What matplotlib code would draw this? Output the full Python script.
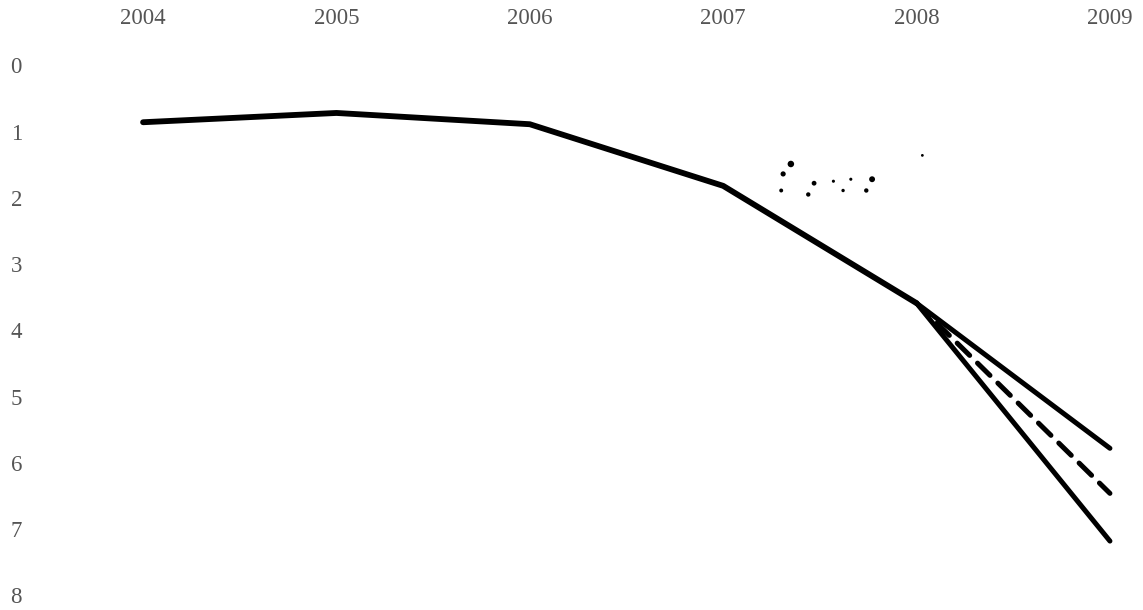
# Chart recreation: declining index 2004-2008 with three 2009 scenarios
# (y axis runs downward, years along the top).

import matplotlib
matplotlib.use("Agg")
import matplotlib.pyplot as plt

# Data
years = [2004, 2005, 2006, 2007, 2008]
values = [0.86, 0.72, 0.89, 1.82, 3.59]

scenario_years = [2008, 2009]
upper = [3.59, 5.78]
middle = [3.59, 6.46]   # dashed
lower = [3.59, 7.18]

# scan specks above the line
speck_x = [2007.35, 2007.31, 2007.30, 2007.47, 2007.44, 2007.57, 2007.62,
           2007.66, 2007.74, 2007.77, 2008.03]
speck_y = [1.49, 1.64, 1.89, 1.78, 1.95, 1.75, 1.89, 1.72, 1.89, 1.72, 1.36]
speck_s = [22, 14, 8, 12, 10, 5, 6, 5, 10, 18, 4]

year_ticks = [2004, 2005, 2006, 2007, 2008, 2009]
value_ticks = list(range(0, 9))

fig = plt.figure(figsize=(11.43, 6.10), dpi=100)
ax = fig.add_axes([0.035, 0.0, 0.965, 0.934])

ax.plot(years, values, color="black", linewidth=4.2, solid_capstyle="round",
        solid_joinstyle="round")
ax.plot(scenario_years, upper, color="black", linewidth=3.6, solid_capstyle="round")
ax.plot(scenario_years, lower, color="black", linewidth=3.6, solid_capstyle="round")
ax.plot(scenario_years, middle, color="black", linewidth=3.6,
        linestyle=(0, (3.5, 2.2)), dash_capstyle="round")
ax.scatter(speck_x, speck_y, s=speck_s, color="black", linewidths=0)

ax.set_xlim(2003.467, 2009.171)
ax.set_ylim(8.22, -0.377)

ax.xaxis.tick_top()
ax.set_xticks(year_ticks)
ax.set_xticklabels([str(y) for y in year_ticks])
ax.set_yticks(value_ticks)
ax.set_yticklabels([str(v) for v in value_ticks])

for lab in ax.get_xticklabels() + ax.get_yticklabels():
    lab.set_family("Liberation Serif")
    lab.set_fontsize(16.5)
    lab.set_color("#555555")

ax.tick_params(axis="x", length=0, pad=8)
ax.tick_params(axis="y", length=0, pad=13)
for side in ax.spines.values():
    side.set_visible(False)

fig.savefig("out.png", dpi=100)
